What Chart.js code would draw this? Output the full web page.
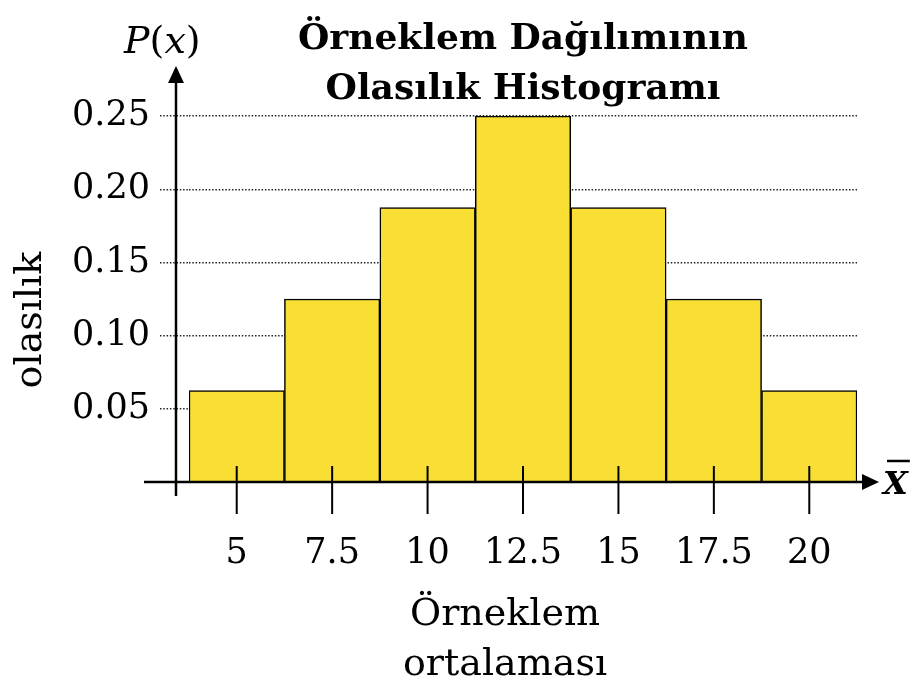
<!DOCTYPE html>
<html>
<head>
<meta charset="utf-8">
<script src="https://cdn.jsdelivr.net/npm/chart.js@4/dist/chart.umd.min.js"></script>
<style>
    html, body { margin: 0; padding: 0; background: #fff; }
    #wrap { width: 912px; height: 684px; }
</style>
</head>
<body>
<div id="wrap"><canvas id="histogram"></canvas></div>
<script>
// sample means (n = 2) and their probabilities
const sampleMeans = ["5", "7.5", "10", "12.5", "15", "17.5", "20"];
const probabilities = [0.0625, 0.125, 0.1875, 0.25, 0.1875, 0.125, 0.0625];
const probabilityTicks = [0.05, 0.10, 0.15, 0.20, 0.25];

const chartTitle = ["Örneklem Dağılımının", "Olasılık Histogramı"];
const xAxisTitle = ["Örneklem", "ortalaması"];
const yAxisTitle = "olasılık";

const serif = "'DejaVu Serif', serif";
const barYellow = "rgb(249, 223, 52)";

// arrows, tick marks and the axis captions drawn over the bars
const axesPlugin = {
    id: "axes",
    afterDatasetsDraw(chart) {
        const ctx = chart.ctx;
        const area = chart.chartArea;
        const xScale = chart.scales.x;
        const yScale = chart.scales.y;
        const y0 = yScale.getPixelForValue(0);
        const axisX = area.left - 13;

        ctx.save();
        ctx.strokeStyle = "#000";
        ctx.fillStyle = "#000";
        ctx.lineWidth = 2.5;

        // vertical axis with arrow
        ctx.beginPath();
        ctx.moveTo(axisX, y0 + 14);
        ctx.lineTo(axisX, area.top - 36);
        ctx.stroke();
        ctx.beginPath();
        ctx.moveTo(axisX, area.top - 50);
        ctx.lineTo(axisX - 8, area.top - 33);
        ctx.lineTo(axisX + 8, area.top - 33);
        ctx.closePath();
        ctx.fill();

        // horizontal axis with arrow
        ctx.beginPath();
        ctx.moveTo(area.left - 45, y0);
        ctx.lineTo(area.right + 8, y0);
        ctx.stroke();
        ctx.beginPath();
        ctx.moveTo(area.right + 22, y0);
        ctx.lineTo(area.right + 5, y0 - 8);
        ctx.lineTo(area.right + 5, y0 + 8);
        ctx.closePath();
        ctx.fill();

        // tick marks under each bar
        ctx.lineWidth = 2;
        xScale.ticks.forEach((t, i) => {
            const px = xScale.getPixelForTick(i);
            ctx.beginPath();
            ctx.moveTo(px, y0 - 16);
            ctx.lineTo(px, y0 + 32);
            ctx.stroke();
        });

        // P(x) above the vertical axis
        ctx.textBaseline = "alphabetic";
        ctx.textAlign = "left";
        let px = axisX - 52;
        const py = 53;
        [["P", "italic"], ["(", "normal"], ["x", "italic"], [")", "normal"]].forEach(([s, style]) => {
            ctx.font = style + " 38px " + serif;
            ctx.fillText(s, px, py);
            px += ctx.measureText(s).width;
        });

        // X bar at the end of the horizontal axis
        ctx.font = "italic bold 32px " + serif;
        const xbarLeft = area.right + 26;
        ctx.fillText("X", xbarLeft, y0 + 12);
        const w = ctx.measureText("X").width;
        ctx.lineWidth = 2.5;
        ctx.beginPath();
        ctx.moveTo(xbarLeft + 4, y0 - 21);
        ctx.lineTo(xbarLeft + w + 2, y0 - 21);
        ctx.stroke();

        // axis captions
        ctx.font = "38px " + serif;
        ctx.textAlign = "center";
        ctx.textBaseline = "middle";
        const midX = (area.left + area.right) / 2 - 18;
        ctx.fillText(xAxisTitle[0], midX, 615);
        ctx.fillText(xAxisTitle[1], midX, 665);

        ctx.translate(31, (area.top + y0) / 2 + 21);
        ctx.rotate(-Math.PI / 2);
        ctx.fillText(yAxisTitle, 0, 0);
        ctx.restore();
    }
};

new Chart(document.getElementById("histogram"), {
    type: "bar",
    data: {
        labels: sampleMeans,
        datasets: [{
            label: "olasılık",
            data: probabilities,
            backgroundColor: barYellow,
            borderColor: "#000",
            borderWidth: 1.5,
            barPercentage: 1,
            categoryPercentage: 1
        }]
    },
    options: {
        responsive: true,
        maintainAspectRatio: false,
        animation: false,
        layout: {
            padding: { top: 15, right: 55, bottom: 58, left: 0 }
        },
        plugins: {
            legend: { display: false },
            tooltip: { enabled: false },
            title: {
                display: true,
                text: chartTitle,
                fullSize: false,
                color: "#000",
                font: { family: serif, size: 36, weight: "bold", lineHeight: 1.39 },
                padding: { top: 0, bottom: 1 }
            }
        },
        scales: {
            x: {
                grid: { display: false, drawTicks: false },
                border: { display: false },
                ticks: {
                    color: "#000",
                    padding: 51,
                    font: { family: serif, size: 35 }
                }
            },
            y: {
                min: 0,
                max: 0.25,
                afterFit(scale) { scale.width = 189; },
                afterBuildTicks(scale) {
                    scale.ticks = probabilityTicks.map(v => ({ value: v }));
                },
                grid: {
                    color: "#222",
                    lineWidth: 1.5,
                    tickLength: 29,
                    tickColor: "#222",
                    tickWidth: 1.5,
                    tickBorderDash: [1.5, 1.8]
                },
                border: { display: false, dash: [1.5, 1.8] },
                ticks: {
                    color: "#000",
                    padding: 10,
                    font: { family: serif, size: 35 },
                    callback: v => v.toFixed(2)
                }
            }
        }
    },
    plugins: [axesPlugin]
});
</script>
</body>
</html>
